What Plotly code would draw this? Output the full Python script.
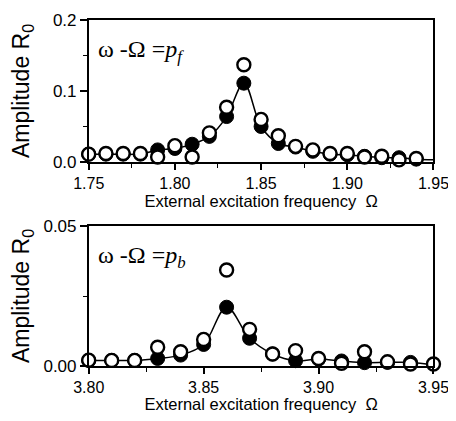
import plotly.graph_objects as go
from plotly.subplots import make_subplots

# Top panel: omega - Omega = p_f
x_top = [1.75, 1.76, 1.77, 1.78, 1.79, 1.80, 1.81, 1.82, 1.83, 1.84, 1.85, 1.86, 1.87,
         1.88, 1.89, 1.90, 1.91, 1.92, 1.93, 1.94, 1.95]
filled_top = [0.011, 0.011, 0.011, 0.011, 0.017, 0.019, 0.025, 0.036, 0.064, 0.111, 0.050,
              0.026, 0.021, 0.015, 0.011, 0.010, 0.008, 0.006, 0.006, 0.004, 0.003]
open_top = [0.011, 0.012, 0.012, 0.012, 0.007, 0.023, 0.007, 0.041, 0.077, 0.137, 0.060,
            0.037, 0.022, 0.017, 0.012, 0.012, 0.007, 0.008, 0.003, 0.005, None]

# Bottom panel: omega - Omega = p_b
x_bot = [3.80, 3.81, 3.82, 3.83, 3.84, 3.85, 3.86, 3.87, 3.88, 3.89, 3.90, 3.91, 3.92,
         3.93, 3.94, 3.95]
filled_bot = [0.0020, 0.0020, 0.0020, 0.0027, 0.0039, 0.0077, 0.0210, 0.0099, 0.0043, 0.0019,
              0.0025, 0.0018, 0.0012, 0.0013, 0.0013, 0.0005]
open_bot = [0.0021, 0.0020, 0.0020, 0.0067, 0.0051, 0.0095, 0.0343, 0.0131, 0.0043, 0.0055,
            0.0027, 0.0010, 0.0051, 0.0015, 0.0007, 0.0007]

fig = make_subplots(rows=2, cols=1)

def add_panel(row, xs, yf, yo):
    sizes = [14] * (len(xs) - 1) + [0]
    fig.add_trace(go.Scatter(x=xs, y=yf, mode="lines+markers", line=dict(color="black", width=1.5, shape="spline"),
                             marker=dict(symbol="circle", size=sizes, color="black", opacity=1,
                                         line=dict(color="black", width=1)),
                             showlegend=False, cliponaxis=False), row=row, col=1)
    fig.add_trace(go.Scatter(x=xs, y=yo, mode="markers",
                             marker=dict(symbol="circle", size=13, color="white", opacity=1,
                                         line=dict(color="black", width=2.4)),
                             showlegend=False, cliponaxis=False), row=row, col=1)

add_panel(1, x_top, filled_top, open_top)
add_panel(2, x_bot, filled_bot, open_bot)

font = dict(family="Liberation Sans, Arial, sans-serif", color="black")
xdom = [0.1834, 0.9670]

common_x = dict(showline=True, linecolor="black", linewidth=1.5, mirror=True, ticks="outside", ticklen=6,
                tickwidth=1.5, tickcolor="black", showgrid=False, zeroline=False, automargin=False,
                ticklabeloverflow="allow",
                tickfont=dict(size=16, **font), domain=xdom,
                title=dict(text="External excitation frequency  Ω", font=dict(size=16.5, **font), standoff=1))
common_y = dict(showline=True, linecolor="black", linewidth=1.5, mirror=True, ticks="outside", ticklen=7,
                tickwidth=1.5, tickcolor="black", showgrid=False, zeroline=False, automargin=False,
                tickfont=dict(size=17, **font),
                title=dict(text="Amplitude R<sub>0</sub>", font=dict(size=23, **font), standoff=18))

fig.update_xaxes(**common_x)
fig.update_yaxes(**common_y)

fig.update_xaxes(range=[1.75, 1.95], tickvals=[1.75, 1.80, 1.85, 1.90, 1.95],
                 ticktext=["1.75", "1.80", "1.85", "1.90", "1.95"],
                 minor=dict(ticks="outside", tickvals=[1.775, 1.825, 1.875, 1.925], ticklen=4,
                            tickwidth=1, tickcolor="black"), row=1, col=1)
fig.update_yaxes(range=[0, 0.2], tickvals=[0, 0.1, 0.2], ticktext=["0.0", "0.1", "0.2"],
                 minor=dict(ticks="outside", tickvals=[0.05, 0.15], ticklen=4, tickwidth=1, tickcolor="black"),
                 domain=[0.6198, 0.9704], row=1, col=1)
fig.update_xaxes(range=[3.80, 3.95], tickvals=[3.80, 3.85, 3.90, 3.95],
                 ticktext=["3.80", "3.85", "3.90", "3.95"],
                 minor=dict(ticks="outside", tickvals=[3.825, 3.875, 3.925], ticklen=4,
                            tickwidth=1, tickcolor="black"), row=2, col=1)
fig.update_yaxes(range=[0, 0.05], tickvals=[0, 0.05], ticktext=["0.00", "0.05"],
                 minor=dict(ticks="outside", tickvals=[0.025], ticklen=4, tickwidth=1, tickcolor="black"),
                 domain=[0.1160, 0.4617], row=2, col=1)

serif = dict(family="Liberation Serif, Times New Roman, serif", size=24, color="black")
fig.add_annotation(text="ω -Ω =<i>p<sub>f</sub></i>", xref="x domain", yref="y domain", x=0.02, y=0.78,
                   xanchor="left", yanchor="middle", showarrow=False, font=serif)
fig.add_annotation(text="ω -Ω =<i>p<sub>b</sub></i>", xref="x2 domain", yref="y2 domain", x=0.02, y=0.78,
                   xanchor="left", yanchor="middle", showarrow=False, font=serif)

fig.update_layout(width=440, height=405, margin=dict(l=0, r=0, t=0, b=0),
                  plot_bgcolor="white", paper_bgcolor="white", font=font)

fig.write_html("out.html")
